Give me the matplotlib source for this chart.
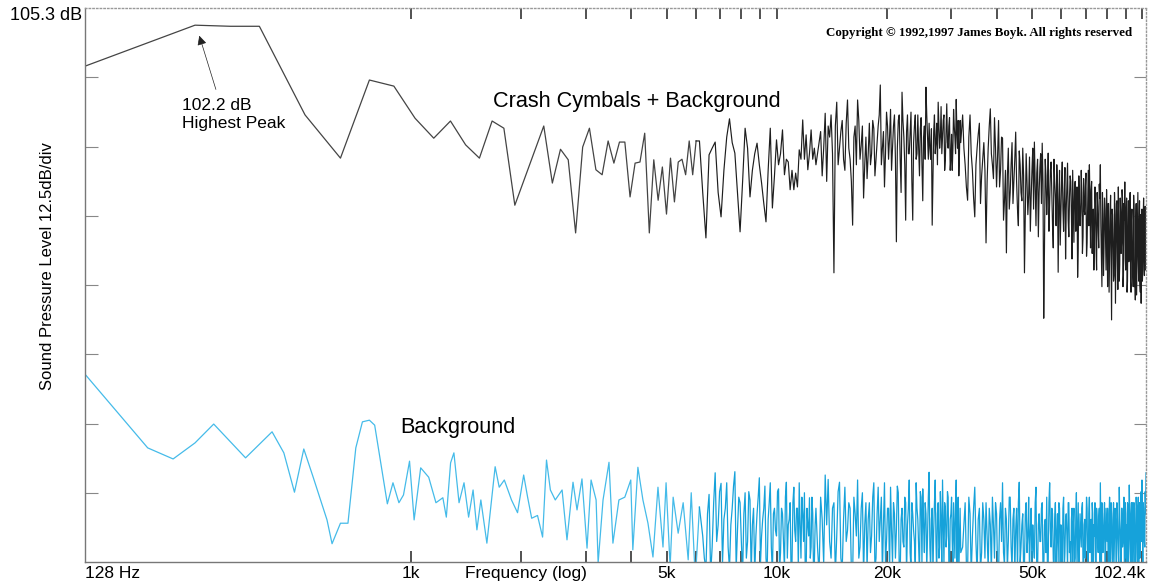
import numpy as np
import matplotlib
matplotlib.use('Agg')
import matplotlib.pyplot as plt
from matplotlib.transforms import blended_transform_factory

plt.rcParams['font.family'] = ['Liberation Sans', 'DejaVu Sans']

###### crash cymbals + background (black) ##########
# low end, vertices (Hz, dB)
blk_lo_f = [128, 256, 320, 384, 512, 640, 768, 896,
            1024, 1152, 1280, 1408, 1536, 1664, 1792, 1920,
            2304, 2432, 2560, 2688, 2816, 2944, 3072, 3200, 3328, 3456,
            3584, 3712, 3840, 3968, 4096, 4224, 4352, 4480, 4608, 4736,
            4864, 4992, 5120, 5248, 5376, 5504, 5632, 5760, 5888, 6016]
blk_lo_db = [94.8, 102.2, 102.0, 102.0, 86.0, 78.2, 92.3, 91.2,
             85.4, 81.8, 84.9, 80.6, 78.2, 84.9, 83.6, 69.7,
             84.0, 73.7, 79.8, 77.9, 64.7, 80.2, 83.6, 76.1, 75.2, 81.3,
             77.3, 81.1, 81.1, 71.2, 77.3, 77.5, 82.7, 64.7, 77.9, 70.6,
             76.6, 68.1, 78.2, 70.3, 77.5, 78.0, 75.2, 81.3, 75.2, 81.3]
# 6144 Hz on, 128 Hz bins
blk_g1 = [81.3, 72.0, 63.8, 78.8, 80.0, 81.1, 72.0, 67.6, 76.0, 82.0,
          85.3, 81.0, 79.1, 72.0, 64.9, 74.0, 83.6, 80.0, 71.2, 76.0,
          79.0, 80.9, 77.0, 73.7, 70.0, 66.7, 76.0, 83.6, 69.2, 75.0,
          81.5, 77.0, 79.0, 83.3, 75.2, 78.0, 77.5, 72.5, 76.0, 72.5,
          75.5, 73.0, 79.7, 78.0, 85.1, 78.0, 82.4, 76.1, 79.0, 83.3,
          78.0, 80.0]
# 12.8k on, 256 Hz bins (g2) and the bins half way between them (m2)
blk_g2 = [77.0, 81.0, 75.0, 86.3, 84.0, 86.0, 57.5, 88.3, 80.0, 85.0,
          76.0, 88.7, 78.0, 66.1, 84.0, 88.7, 78.0, 84.0, 77.0, 74.5,
          84.5, 79.0, 83.5, 78.0, 84.0, 91.4, 80.0, 73.0, 86.5, 78.0,
          87.0, 80.0, 86.0, 63.1, 85.0, 78.0, 90.1, 82.0, 67.0, 86.0,
          79.0, 86.5, 67.0, 84.0, 78.0, 86.0, 75.0, 85.5, 70.5, 84.0,
          91.0, 82.0, 84.5, 78.0, 66.1, 83.0, 79.0, 84.5, 88.3, 80.0,
          87.5, 82.0, 86.0, 78.0, 88.0, 80.0, 85.5, 78.0, 76.0, 87.0,
          82.0, 88.8, 80.0, 75.0, 85.0]
blk_m2 = [79.0, 83.0, 80.0, 74.0, 82.0, 79.0, 84.0, 77.0, 83.0, 78.0,
          84.5, 80.0, 74.0, 82.0, 77.0, 85.0, 80.5, 71.0, 82.0, 79.0,
          77.0, 85.0, 75.0, 81.0, 86.0, 77.0, 83.0, 79.0, 84.0, 82.0,
          76.0, 84.0, 78.0, 80.0, 86.0, 72.0, 85.0, 77.0, 83.0, 79.0,
          83.0, 74.0, 81.0, 86.0, 79.0, 80.0, 83.5, 77.0, 82.0, 78.0,
          86.0, 78.0, 80.0, 83.5, 75.0, 86.0, 81.0, 77.0, 84.0, 82.0,
          79.0, 85.0, 76.0, 83.0, 81.0, 84.0, 76.0, 82.5, 80.0, 84.0,
          79.0, 83.0, 85.0, 79.0, 81.0]
# 32256 Hz to 102.4k, 512 Hz bins (g3) and half way bins (m3)
blk_g3 = [86.0, 77.0, 70.6, 86.0, 76.0, 67.6, 80.0, 84.5, 75.0, 81.0,
          62.9, 80.0, 87.1, 77.0, 85.5, 73.0, 85.0, 76.0, 81.8, 70.5,
          61.1, 80.0, 72.0, 81.0, 74.0, 82.9, 69.0, 79.5, 72.0, 80.0,
          57.5, 79.0, 68.0, 78.4, 71.0, 80.0, 81.1, 66.0, 78.0, 72.0,
          79.0, 80.9, 49.3, 78.0, 68.0, 79.1, 70.0, 77.5, 66.0, 78.0,
          71.0, 77.0, 57.6, 76.0, 68.0, 77.5, 65.0, 76.5, 69.0, 77.3,
          64.0, 75.0, 68.0, 76.0, 63.0, 74.0, 67.0, 56.7, 75.0, 66.0,
          76.0, 61.0, 74.5, 68.0, 75.5, 63.0, 76.0, 77.0, 62.0, 74.0,
          66.0, 58.0, 73.0, 62.0, 72.0, 65.0, 73.5, 77.0, 60.0, 72.0,
          57.0, 71.0, 64.0, 72.5, 55.0, 70.0, 61.0, 71.5, 49.0, 68.0,
          56.0, 72.0, 52.0, 70.0, 60.0, 73.0, 56.0, 71.0, 61.0, 72.5,
          55.0, 70.0, 73.9, 58.0, 71.0, 56.0, 70.5, 62.0, 72.0, 54.0,
          69.0, 58.0, 71.5, 55.0, 52.6, 70.0, 60.0, 72.0, 56.0, 70.5,
          54.0, 52.0, 69.0, 58.0, 71.0, 57.0, 69.5, 62.0]
blk_m3 = [80.0, 73.0, 82.0, 79.0, 71.0, 77.0, 82.5, 70.0, 78.0, 76.0,
          74.0, 84.0, 79.0, 74.5, 80.0, 78.5, 73.0, 82.0, 67.0, 76.0,
          75.0, 69.0, 77.0, 70.0, 78.0, 74.0, 66.0, 77.0, 70.5, 75.0,
          68.0, 74.0, 71.5, 65.0, 76.0, 69.0, 73.0, 75.5, 64.0, 76.5,
          70.0, 74.0, 62.0, 75.0, 72.0, 65.0, 76.0, 71.5, 62.0, 74.0,
          66.0, 73.5, 70.0, 62.5, 74.0, 69.0, 72.0, 60.0, 73.0, 67.0,
          71.0, 74.0, 60.0, 70.0, 72.5, 65.0, 73.0, 62.0, 70.0, 68.5,
          72.0, 64.0, 69.0, 73.0, 60.5, 70.0, 66.0, 71.0, 72.5, 61.0,
          69.0, 64.0, 70.0, 58.0, 69.5, 62.0, 71.0, 66.0, 55.0, 68.0,
          62.0, 69.0, 58.0, 66.5, 70.0, 54.0, 67.0, 59.0, 69.0, 63.0,
          57.0, 68.0, 62.0, 70.5, 54.5, 66.0, 59.0, 68.5, 63.0, 71.0,
          57.0, 67.0, 60.0, 69.0, 54.0, 66.0, 59.5, 70.0, 56.0, 67.0,
          61.0, 55.0, 69.0, 57.0, 66.0, 53.5, 68.0, 60.0, 66.0, 55.5,
          68.0, 61.0, 56.0, 67.0, 60.0, 64.0, 58.0]

###### background (blue) ##########
bg_lo_f = [128, 190, 223, 256, 288, 352, 416, 448, 479, 508,
           539, 588, 607, 640, 671, 705, 735, 768, 794, 860,
           891, 925, 952, 989, 1018, 1061, 1116, 1168, 1220, 1247,
           1281, 1308, 1351, 1394, 1435, 1476, 1512, 1550, 1610, 1696,
           1740, 1797, 1880, 1953, 2030, 2081, 2135, 2215, 2287, 2344,
           2402, 2477, 2586, 2667, 2770, 2841, 2931, 3026, 3104, 3204,
           3245, 3347, 3475, 3562, 3699, 3839, 3986, 4038, 4169, 4303,
           4442, 4584, 4731, 4883, 4979, 5107, 5206, 5373, 5545, 5723,
           5834, 5987, 6143]
bg_lo_db = [39.2, 25.9, 23.9, 26.8, 30.2, 24.1, 28.8, 25.0, 17.9, 25.7,
            20.6, 12.9, 8.6, 12.3, 12.3, 25.9, 30.6, 30.9, 30.0, 15.8,
            19.6, 16.0, 17.4, 23.5, 12.9, 22.3, 20.6, 16.0, 16.9, 13.4,
            23.2, 25.0, 16.0, 19.6, 13.4, 18.3, 11.1, 16.5, 8.7, 22.5,
            18.8, 20.1, 16.5, 14.2, 21.0, 17.0, 13.2, 13.7, 9.8, 23.7,
            18.3, 16.5, 18.3, 9.3, 19.7, 14.7, 20.3, 7.8, 20.1, 16.5,
            5.1, 16.5, 23.3, 8.7, 16.5, 17.0, 20.1, 7.5, 22.4, 16.5,
            12.3, 6.2, 18.8, 8.0, 19.6, 4.4, 17.0, 10.5, 16.0, 5.7,
            17.8, 2.0, 15.2]
# 6272 Hz on, 128 Hz bins + half way bins
bg_g1 = [10, 4, 17.5, 8, 21.4, 12, 19.5, 13, 19.6, 4,
         15, 21.6, 11, 16, 3, 17.8, 9, 16.5, 12, 3,
         14, 20.5, 10, 15, 6, 13, 19.6, 3, 15, 10,
         18.5, 7, 14, 4, 19.7, 12, 16, 5, 18.8, 9,
         15, 19.6, 6, 14, 17.8, 3, 12, 16.9, 8, 14,
         5]
bg_m1 = [6, 14, 3, 16, 9, 18, 5, 15, 8, 12,
         19, 4, 17, 9, 14, 6, 18, 3, 15, 10,
         17, 5, 13, 19, 3, 16, 8, 14, 11, 18,
         4, 15, 9, 17, 6, 13, 3, 16, 11, 15,
         4, 12, 17, 9, 3, 15, 10, 6, 17, 3,
         12]
bg_g2 = [15, 3, 13, 21.0, 20.2, 6, 16, 10, 19.7, 4,
         18.8, 11, 15, 3, 14, 20.1, 8, 17.8, 12, 4,
         16, 10, 19.6, 6, 18.8, 13, 3, 19.6, 9, 15,
         18.8, 5, 14, 11, 17.8, 3, 15, 8, 16, 12,
         20.1, 4, 14, 9, 19.6, 13, 3, 17, 18.5, 7,
         14, 10, 21.5, 4, 15, 11, 20.1, 3, 16, 8,
         13, 20.1, 5, 15, 10, 17, 3, 14, 9, 16,
         6, 20.1, 12, 3, 15]
bg_m2 = [8, 17, 5, 12, 9, 15, 3, 18, 6, 13,
         9, 16, 4, 17, 10, 6, 15, 3, 16, 13,
         7, 17, 4, 14, 9, 17, 12, 5, 15, 3,
         11, 16, 6, 19, 4, 13, 9, 17, 3, 15,
         7, 16, 11, 4, 15, 8, 18, 5, 12, 16,
         4, 17, 8, 13, 3, 16, 9, 14, 6, 18,
         4, 12, 16, 8, 18, 5, 13, 17, 4, 11,
         16, 5, 17, 9, 7]
bg_g3 = [8, 16, 4, 14, 10, 18.8, 3, 15, 7, 13,
         16, 4, 12, 17, 6, 14, 3, 16, 19.6, 5,
         13, 9, 17, 4, 15, 11, 3, 19.7, 8, 14,
         5, 16, 10, 3, 15, 12, 6, 18.8, 4, 14,
         9, 16, 3, 13, 17, 5, 19.6, 8, 14, 3,
         16, 10, 5, 15, 12, 3, 17, 7, 14, 4,
         16, 9, 13, 3, 15, 6, 17.8, 10, 4, 14,
         8, 16, 3, 13, 11, 15, 5, 17, 9, 3,
         14, 12, 16, 4, 13, 7, 15, 19.6, 3, 14,
         9, 16, 5, 12, 15, 3, 17, 8, 14, 4,
         16, 10, 13, 3, 15, 7, 18.8, 11, 4, 15,
         9, 17, 3, 14, 12, 16, 5, 19.2, 8, 14,
         3, 16, 10, 15, 4, 17, 7, 14, 3, 16,
         11, 18, 20.1, 5, 15, 9, 18, 21.4]
bg_m3 = [12, 5, 17, 3, 15, 9, 13, 4, 16, 6,
         10, 15, 3, 12, 16, 4, 13, 9, 7, 15,
         4, 17, 8, 13, 3, 15, 16, 5, 12, 4,
         14, 7, 17, 11, 4, 8, 16, 3, 12, 9,
         15, 4, 12, 7, 3, 16, 11, 15, 6, 13,
         5, 14, 16, 3, 9, 15, 4, 13, 10, 16,
         7, 3, 15, 12, 5, 13, 4, 16, 8, 11,
         15, 4, 12, 6, 17, 3, 14, 7, 13, 16,
         4, 10, 5, 15, 9, 13, 4, 11, 16, 7,
         13, 4, 15, 9, 6, 14, 4, 16, 6, 13,
         5, 15, 7, 16, 10, 4, 13, 6, 15, 8,
         13, 5, 16, 6, 4, 15, 10, 13, 4, 16,
         12, 5, 16, 4, 11, 15, 3, 17, 12, 6,
         15, 9, 13, 16, 12, 8, 14]

x_ticks = [1000, 2000, 3000, 4000, 5000, 6000, 7000, 8000, 9000, 10000,
           20000, 30000, 40000, 50000, 60000, 70000, 80000, 90000, 100000]
x_labels = [(1000, '1k'), (5000, '5k'), (10000, '10k'), (20000, '20k'), (50000, '50k')]

y_top = 105.3
y_div = 12.5


def bins(start, step, vals):
    return start + step * np.arange(len(vals))


def join_series(parts):
    # parts: list of (freqs, dB) pieces, merged and sorted by frequency
    f = np.concatenate([np.asarray(p[0], dtype=float) for p in parts])
    db = np.concatenate([np.asarray(p[1], dtype=float) for p in parts])
    order = np.argsort(f, kind='stable')
    return f[order], db[order]


blk_f, blk_db = join_series([
    (blk_lo_f, blk_lo_db),
    (bins(6144, 128, blk_g1), blk_g1),
    (bins(12800, 256, blk_g2), blk_g2),
    (bins(12928, 256, blk_m2), blk_m2),
    (bins(32256, 512, blk_g3), blk_g3),
    (bins(32512, 512, blk_m3), blk_m3),
])
bg_f, bg_db = join_series([
    (bg_lo_f, bg_lo_db),
    (bins(6272, 128, bg_g1), bg_g1),
    (bins(6336, 128, bg_m1), bg_m1),
    (bins(12800, 256, bg_g2), bg_g2),
    (bins(12928, 256, bg_m2), bg_m2),
    (bins(32256, 512, bg_g3), bg_g3),
    (bins(32512, 512, bg_m3), bg_m3),
])

fig = plt.figure(figsize=(11.54, 5.84), dpi=100)
ax = fig.add_axes([85 / 1154, 22 / 584, 1061 / 1154, 554 / 584])

# the sparse low end prints lighter than the dense top end, so two tones
n_bg = len(bg_lo_f)
ax.plot(bg_f[:n_bg], bg_db[:n_bg], color='#45bbe9', lw=0.9)
ax.plot(bg_f[n_bg - 1:], bg_db[n_bg - 1:], color='#16a2da', lw=0.9)
n_blk = len(blk_lo_f)
ax.plot(blk_f[:n_blk], blk_db[:n_blk], color='#444444', lw=0.9)
ax.plot(blk_f[n_blk - 1:], blk_db[n_blk - 1:], color='#1e1e1e', lw=0.85)

ax.set_xscale('log')
ax.set_xlim(128, 102400)
ax.set_ylim(y_top - 8 * y_div, y_top)

ax.set_xticks(x_ticks)
ax.set_xticks([], minor=True)
ax.set_xticklabels([])
ax.tick_params(axis='x', which='major', direction='in', length=8, width=1.2,
               color='#333333', top=True, bottom=True)
ax.set_yticks([y_top - y_div * k for k in range(1, 8)])
ax.set_yticklabels([])
ax.tick_params(axis='y', direction='in', length=9, width=0.8,
               color='#888888', left=True, right=True)

for s in ['left', 'bottom']:
    ax.spines[s].set_color('#777777')
    ax.spines[s].set_linewidth(1.0)
for s in ['top', 'right']:
    ax.spines[s].set_color('#999999')
    ax.spines[s].set_linestyle(':')
    ax.spines[s].set_linewidth(1.0)

##### labels along the axes
tr = blended_transform_factory(ax.transData, ax.transAxes)
ax.text(128, -0.02, '128 Hz', transform=tr, ha='left', va='center', fontsize=12.5)
for f, lab in x_labels:
    ax.text(f, -0.02, lab, transform=tr, ha='center', va='center', fontsize=12.5)
ax.text(102400, -0.02, '102.4k', transform=tr, ha='right', va='center', fontsize=12.5)
ax.text(2060, -0.02, 'Frequency (log)', transform=tr, ha='center', va='center', fontsize=12.5)

fig.text(82 / 1154, 1 - 16 / 584, '105.3 dB', ha='right', va='center', fontsize=13)
fig.text(48 / 1154, 1 - 266 / 584, 'Sound Pressure Level 12.5dB/div',
         rotation=90, ha='center', va='center', fontsize=12)

##### annotations
ax.annotate('', xy=(263, 100.3), xytext=(292, 90.6),
            arrowprops=dict(arrowstyle='-|>', color='#222222', lw=0.5,
                            mutation_scale=14, shrinkA=0, shrinkB=0))
ax.text(236, 86.1, '102.2 dB\nHighest Peak', ha='left', va='center',
        fontsize=12.5, linespacing=1.25)
ax.text(1672, 88.5, 'Crash Cymbals + Background', ha='left', va='center', fontsize=15.6)
ax.text(931, 29.5, 'Background', ha='left', va='center', fontsize=15.6)
ax.text(0.698, 0.955, 'Copyright \u00a9 1992,1997 James Boyk. All rights reserved',
        transform=ax.transAxes, ha='left', va='center', fontsize=9.3,
        family='Liberation Serif', fontweight='bold')

fig.savefig('out.png', dpi=100, facecolor='white')
